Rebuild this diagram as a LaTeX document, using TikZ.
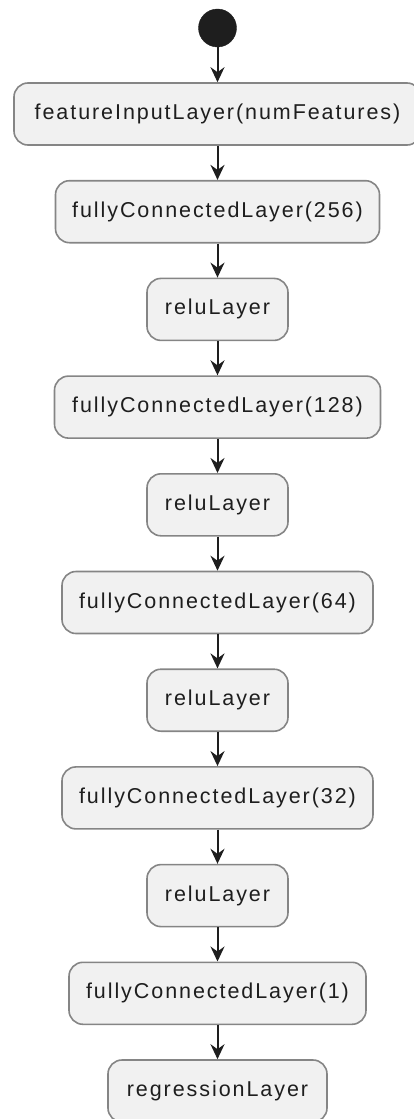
\documentclass[tikz,border=0pt]{standalone}
\usepackage{fontspec}
\newfontfamily\lbl{Liberation Sans}[LetterSpace=9]
\usetikzlibrary{arrows.meta}
\definecolor{boxfill}{HTML}{F1F1F1}
\definecolor{boxline}{HTML}{858585}
\definecolor{ink}{HTML}{1E1E1E}
\tikzset{
  layer/.style={draw=boxline, line width=1.6pt, fill=boxfill, rounded corners=14pt,
    minimum height=62pt, inner sep=0pt, text=ink, font=\lbl\fontsize{21.5}{24}\selectfont},
  flow/.style={draw=ink, line width=2pt, -{Stealth[length=15pt,width=14pt,inset=5pt]}}
}
\begin{document}
\begin{tikzpicture}[x=1pt,y=-1pt]
\useasboundingbox (0,0) rectangle (414,1119);
\clip (0,0) rectangle (414,1119);
\node[circle, fill=ink, draw=ink, minimum size=38pt, inner sep=0pt] (start) at (217.5,28) {};
\node[layer, minimum width=407pt] (b1) at (217.5,114) {featureInputLayer(numFeatures)};
\node[layer, minimum width=324pt] (b2) at (217.5,211.7) {fullyConnectedLayer(256)};
\node[layer, minimum width=141pt] (b3) at (217.5,309.4) {reluLayer};
\node[layer, minimum width=326pt] (b4) at (217.5,407.1) {fullyConnectedLayer(128)};
\node[layer, minimum width=141pt] (b5) at (217.5,504.8) {reluLayer};
\node[layer, minimum width=311pt] (b6) at (217.5,602.5) {fullyConnectedLayer(64)};
\node[layer, minimum width=141pt] (b7) at (217.5,700.2) {reluLayer};
\node[layer, minimum width=311pt] (b8) at (217.5,797.9) {fullyConnectedLayer(32)};
\node[layer, minimum width=141pt] (b9) at (217.5,895.6) {reluLayer};
\node[layer, minimum width=297pt] (b10) at (217.5,993.3) {fullyConnectedLayer(1)};
\node[layer, minimum width=219pt] (b11) at (217.5,1091) {regressionLayer};
\draw[flow] (start) -- (b1);
\draw[flow] (b1) -- (b2);
\draw[flow] (b2) -- (b3);
\draw[flow] (b3) -- (b4);
\draw[flow] (b4) -- (b5);
\draw[flow] (b5) -- (b6);
\draw[flow] (b6) -- (b7);
\draw[flow] (b7) -- (b8);
\draw[flow] (b8) -- (b9);
\draw[flow] (b9) -- (b10);
\draw[flow] (b10) -- (b11);
\end{tikzpicture}
\end{document}
